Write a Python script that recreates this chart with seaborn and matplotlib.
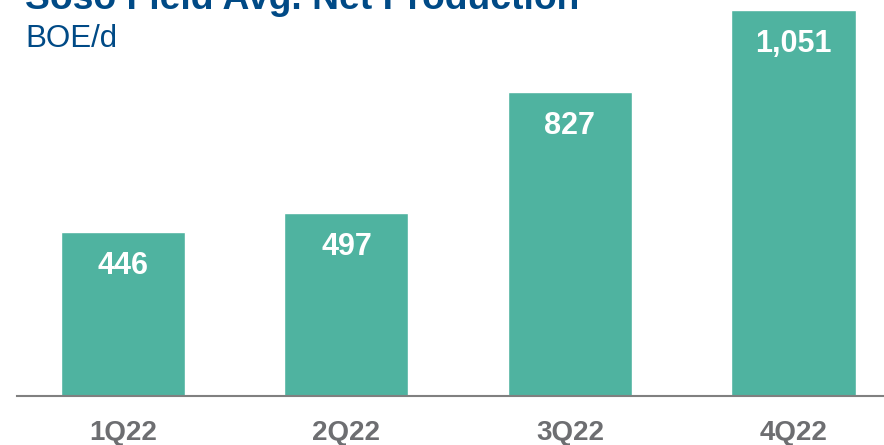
import matplotlib
matplotlib.use("Agg")
import matplotlib.pyplot as plt
import seaborn as sns
import pandas as pd

# Quarterly average net production
quarters = ["1Q22", "2Q22", "3Q22", "4Q22"]
production = [446, 497, 827, 1051]

title = "Soso Field Avg. Net Production"
subtitle = "BOE/d"

BAR_COLOR = "#4fb3a0"
TITLE_COLOR = "#004a86"
TICK_COLOR = "#6d6e71"
AXIS_COLOR = "#808080"

sns.set_theme(style="white")
plt.rcParams["font.family"] = ["Liberation Sans", "DejaVu Sans"]

df = pd.DataFrame({"quarter": quarters, "boe": production})

fig = plt.figure(figsize=(8.84, 4.45), dpi=100)
ax = fig.add_axes([17 / 884, 49 / 445, 867 / 884, 396 / 445])

sns.barplot(data=df, x="quarter", y="boe", order=quarters, color=BAR_COLOR,
            saturation=1, width=0.555, ax=ax)

ax.set_ylim(0, 1078)
ax.set_xlim(-0.474, 3.405)

for i, v in enumerate(production):
    ax.annotate(f"{v:,}", xy=(i, v), xytext=(0, -24.5), textcoords="offset points",
                ha="center", va="center", color="white", fontsize=22,
                fontweight="bold")

for s in ["top", "right", "left"]:
    ax.spines[s].set_visible(False)
ax.spines["bottom"].set_color(AXIS_COLOR)
ax.spines["bottom"].set_linewidth(1.5)
ax.set_yticks([])
ax.set_xlabel("")
ax.set_ylabel("")
ax.tick_params(axis="x", length=0, pad=17, labelsize=20, labelcolor=TICK_COLOR)
for lbl in ax.get_xticklabels():
    lbl.set_fontweight("bold")

fig.text(25 / 884, 1 - 9 / 445, title, ha="left", va="baseline",
         fontsize=26.8, fontweight="bold", color=TITLE_COLOR)
fig.text(25 / 884, 1 - 47 / 445, subtitle, ha="left", va="baseline",
         fontsize=22.5, color=TITLE_COLOR)

fig.savefig("out.png", dpi=100)
